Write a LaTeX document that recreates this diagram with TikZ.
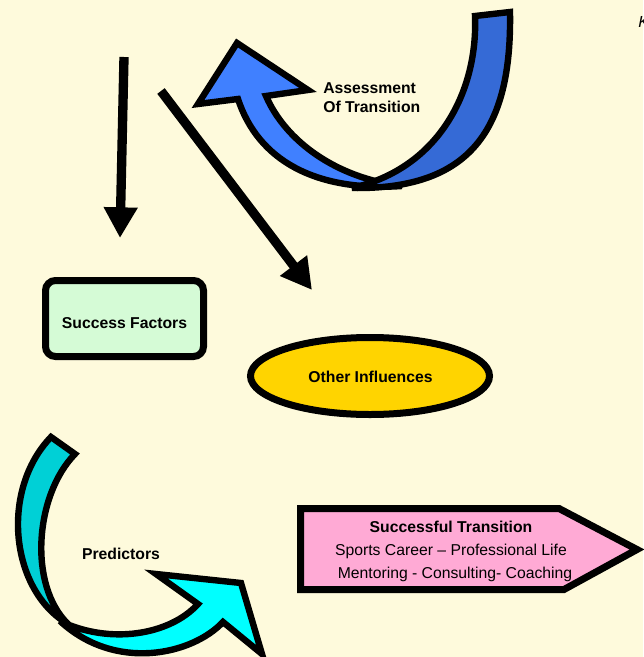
\documentclass[tikz,border=0pt]{standalone}
\usepackage{fontspec}
\setmainfont{Liberation Sans}
\usetikzlibrary{arrows.meta,shapes.geometric}
\definecolor{bg}{RGB}{254,250,220}
\definecolor{sfgreen}{RGB}{213,251,214}
\definecolor{goldf}{RGB}{255,212,0}
\definecolor{pinkf}{RGB}{255,170,213}
\definecolor{blueL}{RGB}{64,128,255}
\definecolor{blueD}{RGB}{53,106,214}
\definecolor{cyanL}{RGB}{0,255,255}
\definecolor{cyanD}{RGB}{0,208,214}
\begin{document}
\begin{tikzpicture}[x=0.75pt,y=-0.75pt,
  lbl/.style={font=\fontsize{11.8}{15}\selectfont\bfseries, inner sep=0pt, anchor=base},
  txt/.style={font=\fontsize{11.8}{15}\selectfont, inner sep=0pt, anchor=base},
  shapeborder/.style={draw=black, line width=5.25pt, line join=miter},
  bent/.style={draw=black, line width=4.8pt, line join=miter, miter limit=4},
  straight/.style={line width=7pt, -{Triangle[length=23pt,width=24pt]}},
  sfbox/.style={shapeborder, fill=sfgreen, rounded corners=7.5pt, minimum width=118.5pt, minimum height=57pt, inner sep=0pt},
  oibox/.style={shapeborder, fill=goldf, ellipse, minimum width=179.25pt, minimum height=57.75pt, inner sep=0pt},
]
\useasboundingbox (0,0) rectangle (643,657);
\fill[bg] (0,0) rectangle (643,657);

% straight arrows
\coordinate (vs) at (124,57);
\coordinate (ve) at (120,238);
\draw[straight] (vs) -- (ve);
\coordinate (ds) at (161,91);
\coordinate (de) at (312,290);
\draw[straight] (ds) -- (de);

% blue curved arrow
\filldraw[bent, fill=blueL] (266,96) -- (308,90) -- (237,43) -- (198,104) -- (238,99)
  .. controls (258,160) and (315,192) .. (402,186)
  .. controls (335,178) and (285,140) .. (266,96) -- cycle;
\filldraw[bent, fill=blueD] (475,16) -- (510,12)
  .. controls (512,130) and (470,190) .. (352,188)
  .. controls (440,168) and (478,90) .. (475,16) -- cycle;
\node[lbl, anchor=base west] (at1) at (323,93) {Assessment};
\node[lbl, anchor=base west] (at2) at (323,112) {Of Transition};

% success factors
\node[sfbox] (sf) at (124.5,318.5) {};
\node[lbl] (sft) at (124.5,328) {Success Factors};

% other influences
\node[oibox] (oi) at (370,376) {};
\node[lbl] (oit) at (370.5,382) {Other Influences};

% cyan curved arrow
\filldraw[bent, fill=cyanL] (198,604) -- (156,574) -- (241,583) -- (262,654) -- (223,622)
  .. controls (192,655) and (115,672) .. (60,621)
  .. controls (110,645) and (170,635) .. (198,604) -- cycle;
\filldraw[bent, fill=cyanD] (51,437) -- (75,454)
  .. controls (35,495) and (28,585) .. (68,624)
  .. controls (10,590) and (0,490) .. (51,437) -- cycle;
\node[lbl] (pr) at (121,559) {Predictors};

% successful transition pentagon
\fill[pinkf] (300.5,508.5) -- (559,508.5) -- (637,549.5) -- (564,589.5) -- (300.5,589.5) -- cycle;
\node[lbl] (st) at (451,532) {Successful Transition};
\node[txt] (sc) at (451,555) {Sports Career – Professional Life};
\node[txt] (mc) at (455,578) {Mentoring - Consulting- Coaching};
\draw[shapeborder] (300.5,508.5) -- (559,508.5) -- (637,549.5) -- (564,589.5) -- (300.5,589.5) -- cycle;

% clipped letter at the top right edge
\node[font=\fontsize{12}{14}\selectfont\itshape, inner sep=0pt, anchor=base west] (kk) at (638,27) {K};
\end{tikzpicture}
\end{document}
